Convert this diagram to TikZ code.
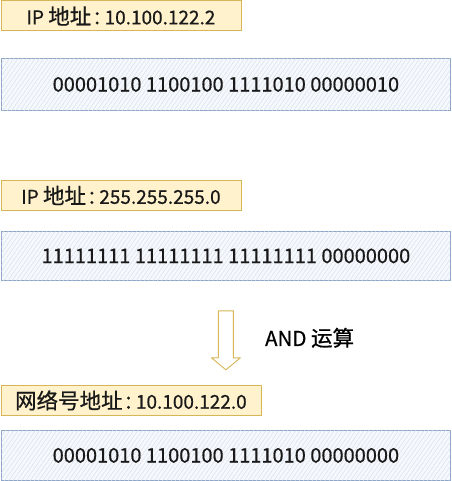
\documentclass[tikz,border=0pt]{standalone}
\usepackage{fontspec}
\setmainfont{Noto Sans CJK SC}[FakeBold=0.6]
\usetikzlibrary{positioning,patterns.meta,calc}
\definecolor{labelfill}{HTML}{FFF2CC}
\definecolor{labeldraw}{HTML}{D6B656}
\definecolor{bitsfill}{HTML}{F5F8FC}
\definecolor{bitsdraw}{HTML}{8DA5C6}
\definecolor{hatch}{HTML}{D5DEEA}
\newcommand\zh[1]{{\fontsize{21.5}{24}\selectfont#1}}
\newcommand\zhcolon{\makebox[0.7em][l]{\hspace{0.06em}：}}
\tikzset{%
  % Specifications for style of nodes:
        base/.style = {rectangle, anchor=north west, inner sep=0pt,
                       text centered, text=black!90},
     iplabel/.style = {base, draw=labeldraw, fill=labelfill, line width=0.8pt,
                       minimum width=240pt, minimum height=30pt,
                       font=\fontsize{19}{22}\selectfont},
      bitrow/.style = {base, draw=bitsdraw, fill=bitsfill, line width=0.8pt,
                       postaction={pattern={Lines[angle=55,distance=3.5pt,line width=0.4pt]},
                                   pattern color=hatch},
                       minimum width=449pt, font=\fontsize{20}{24}\selectfont},
  blockarrow/.style = {draw=labeldraw, fill=white, line width=0.9pt, line join=round},
}
\begin{document}
\begin{tikzpicture}
  \useasboundingbox (0,0) rectangle (451pt,-481pt);
  % Specification of nodes (position, etc.)
  \node (ip)       [iplabel] at (0.5pt,-0.5pt) {IP \zh{地址}\zhcolon 10.100.122.2};
  \node (ipbits)   [bitrow, minimum height=52pt] at (1pt,-58pt)
                   {00001010 1100100 1111010 00000010};
  \node (mask)     [iplabel] at (0.5pt,-180pt) {IP \zh{地址}\zhcolon 255.255.255.0};
  \node (maskbits) [bitrow, minimum height=49pt] at (1pt,-231pt)
                   {11111111 11111111 11111111 00000000};
  \node (net)      [iplabel, minimum width=260pt] at (0.5pt,-385pt)
                   {\zh{网络号地址}\zhcolon 10.100.122.0};
  \node (netbits)  [bitrow, minimum height=50pt] at (1pt,-430pt)
                   {00001010 1100100 1111010 00000000};
  % block arrow between the mask and the result
  \coordinate (andtop) at ($(maskbits.south)+(0,-30pt)$);
  \draw[blockarrow, shift={(andtop)}] (-7.5pt,0) -- (7.5pt,0) -- (7.5pt,-47pt)
       -- (14.5pt,-47pt) -- (0,-59pt) -- (-14.5pt,-47pt) -- (-7.5pt,-47pt) -- cycle;
  \node (andop) [right=39pt of andtop, yshift=-27pt, inner sep=0pt,
                 font=\fontsize{20.5}{24}\selectfont] {AND \zh{运算}};
\end{tikzpicture}
\end{document}
